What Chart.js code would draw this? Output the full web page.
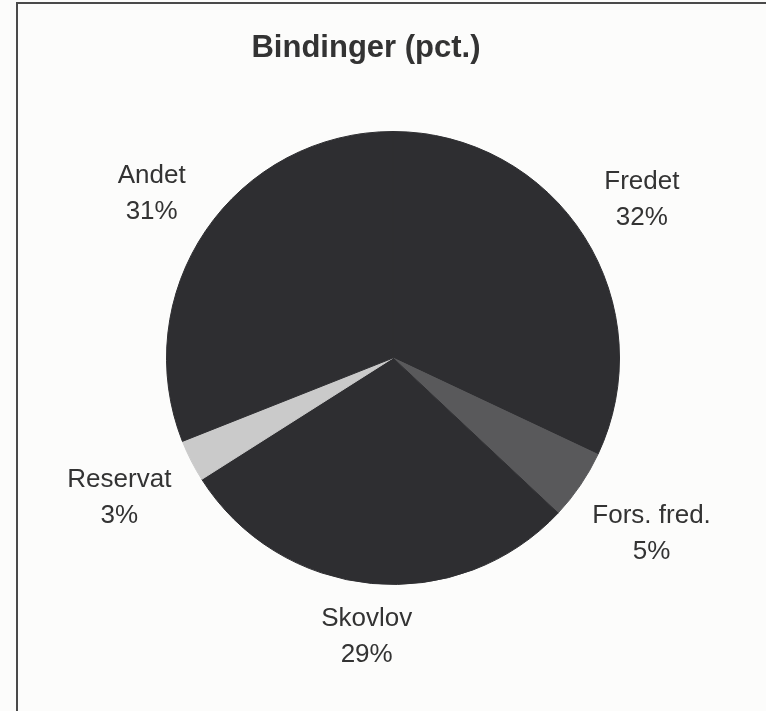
<!DOCTYPE html>
<html>
<head>
<meta charset="utf-8">
<script src="https://cdn.jsdelivr.net/npm/chart.js@4.4.1/dist/chart.umd.min.js"></script>
<style>
  html, body { margin: 0; padding: 0; background: #fcfcfb; }
  canvas { display: block; }
</style>
</head>
<body>
<canvas id="pieChart" width="766" height="711"></canvas>
<script>
  // data
  const titleText = "Bindinger (pct.)";
  const categories = ["Fredet", "Fors. fred.", "Skovlov", "Reservat", "Andet"];
  const shares = [32, 5, 29, 3, 31];
  const shareLabels = ["32%", "5%", "29%", "3%", "31%"];
  const sliceColors = ["#2e2e31", "#59595b", "#2e2e31", "#cacaca", "#2e2e31"];

  // labels outside the pie + title + frame
  const labelPlugin = {
    id: "outsideLabels",
    afterDraw(chart) {
      const ctx = chart.ctx;
      const meta = chart.getDatasetMeta(0);
      ctx.save();

      // frame (left + top edge of the scanned box)
      ctx.strokeStyle = "#4a4a4a";
      ctx.lineWidth = 2;
      ctx.beginPath();
      ctx.moveTo(17, 711);
      ctx.lineTo(17, 3);
      ctx.lineTo(766, 3);
      ctx.stroke();

      ctx.fillStyle = "#333";
      ctx.textAlign = "center";
      ctx.textBaseline = "middle";

      ctx.font = "bold 31px 'Liberation Sans', Arial, sans-serif";
      ctx.fillText(titleText, 366, 48);

      ctx.font = "26px 'Liberation Sans', Arial, sans-serif";
      const lineGap = 36;
      const blockH = 54;
      meta.data.forEach((arc, i) => {
        const p = arc.getProps(["x", "y", "startAngle", "endAngle", "outerRadius"], true);
        const a = (p.startAngle + p.endAngle) / 2;
        const w = Math.max(ctx.measureText(categories[i]).width, ctx.measureText(shareLabels[i]).width);
        const d = p.outerRadius + 22 + Math.abs(Math.cos(a)) * w / 2 + Math.abs(Math.sin(a)) * blockH / 2;
        const cx = p.x + Math.cos(a) * d;
        const cy = p.y + Math.sin(a) * d;
        ctx.fillText(categories[i], cx, cy - lineGap / 2);
        ctx.fillText(shareLabels[i], cx, cy + lineGap / 2);
      });
      ctx.restore();
    }
  };

  const config = {
    type: "pie",
    data: {
      labels: categories,
      datasets: [
        {
          data: shares,
          backgroundColor: sliceColors,
          borderColor: sliceColors,
          borderWidth: 1,
        },
      ],
    },
    options: {
      responsive: false,
      animation: false,
      layout: { padding: { left: 166, right: 146, top: 131, bottom: 126 } },
      plugins: {
        legend: { display: false },
        tooltip: { enabled: false },
        title: { display: false },
      },
    },
    plugins: [labelPlugin],
  };
  var myChart = new Chart(document.getElementById("pieChart"), config);
</script>
</body>
</html>
